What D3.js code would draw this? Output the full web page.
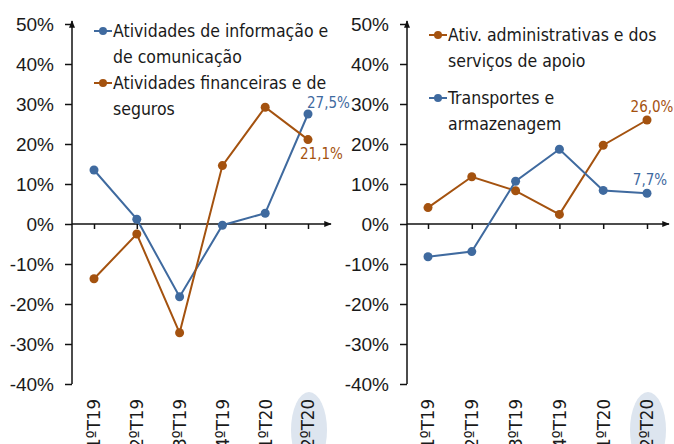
<!DOCTYPE html>
<html lang="pt">
<head>
<meta charset="utf-8">
<title>Variação homóloga</title>
<script src="https://cdnjs.cloudflare.com/ajax/libs/d3/7.8.5/d3.min.js"></script>
<style>
  body { margin: 0; background: #fff; }
  svg { display: block; font-family: "DejaVu Sans Condensed", "DejaVu Sans", sans-serif; font-stretch: condensed; }
  .tick-label { font-size: 19px; fill: #1a1a1a; }
  .cat-label { font-size: 18.5px; fill: #1a1a1a; }
  .legend-text { font-size: 17.5px; fill: #1a1a1a; }
  .data-label { font-size: 15px; }
</style>
</head>
<body>
<div id="chart"></div>
<script>
// categories (quarters)
var quarters = ["1ºT19", "2ºT19", "3ºT19", "4ºT19", "1ºT20", "2ºT20"];
var yTicks = [-0.4, -0.3, -0.2, -0.1, 0, 0.1, 0.2, 0.3, 0.4, 0.5];

// left panel series
var infoCom = [0.135, 0.012, -0.182, -0.003, 0.027, 0.275];
var financeiras = [-0.137, -0.025, -0.272, 0.146, 0.292, 0.211];
// right panel series
var administrativas = [0.041, 0.118, 0.083, 0.024, 0.197, 0.260];
var transportes = [-0.082, -0.069, 0.107, 0.187, 0.084, 0.077];

var blue = "#3f6a9f", orange = "#a4520f";

var width = 674, height = 444;
var svg = d3.select("#chart").append("svg")
  .attr("width", width).attr("height", height);

var defs = svg.append("defs");
defs.append("marker")
  .attr("id", "arrow")
  .attr("viewBox", "0 0 10 10")
  .attr("refX", 9).attr("refY", 5)
  .attr("markerWidth", 5).attr("markerHeight", 5)
  .attr("orient", "auto")
  .append("path").attr("d", "M0,1 L10,5 L0,9 Z").attr("fill", "#111");

var y = d3.scaleLinear().domain([-0.4, 0.5]).range([384, 24]);
var fmtTick = function(d) { return Math.round(d * 100) + "%"; };
var fmtLabel = function(d) { return (d * 100).toFixed(1).replace(".", ",") + "%"; };

var panels = [
  {
    axisX: 72, axisEnd: 331, x0: 94, x1: 308,
    series: [
      { name: ["Atividades de informação e", "de comunicação"], values: infoCom, color: blue,
        legendY: 31, label: { dx: -1, dy: -6, anchor: "start" } },
      { name: ["Atividades financeiras e de", "seguros"], values: financeiras, color: orange,
        legendY: 83, label: { dx: -8, dy: 19, anchor: "start" } }
    ],
    legendX: 94
  },
  {
    axisX: 407, axisEnd: 669, x0: 428, x1: 647,
    series: [
      { name: ["Ativ. administrativas e dos", "serviços de apoio"], values: administrativas, color: orange,
        legendY: 35, label: { dx: 5, dy: -8, anchor: "middle" } },
      { name: ["Transportes e", "armazenagem"], values: transportes, color: blue,
        legendY: 98, label: { dx: 3, dy: -8, anchor: "middle" } }
    ],
    legendX: 429
  }
];

panels.forEach(function(p) {
  var g = svg.append("g");
  var x = d3.scalePoint().domain(quarters).range([p.x0, p.x1]);

  // highlight last quarter
  g.append("ellipse")
    .attr("cx", x(quarters[quarters.length - 1]) + 1)
    .attr("cy", 430).attr("rx", 18).attr("ry", 38)
    .attr("fill", "#dde5ef");

  // y axis
  var yAxis = d3.axisLeft(y).tickValues(yTicks).tickFormat(fmtTick).tickSize(7).tickPadding(11);
  var ya = g.append("g").attr("transform", "translate(" + p.axisX + ",0)").call(yAxis);
  ya.select(".domain").remove();
  ya.selectAll(".tick line").attr("stroke", "#111").attr("stroke-width", 1.5);
  ya.selectAll(".tick text").attr("class", "tick-label").attr("fill", null);
  g.append("line")
    .attr("x1", p.axisX).attr("x2", p.axisX)
    .attr("y1", y(-0.4)).attr("y2", y(0.5) - 3)
    .attr("stroke", "#111").attr("stroke-width", 1.5)
    .attr("marker-end", "url(#arrow)");

  // x axis at zero
  var xAxis = d3.axisBottom(x).tickSize(5).tickFormat("");
  var xa = g.append("g").attr("transform", "translate(0," + y(0) + ")").call(xAxis);
  xa.select(".domain").remove();
  xa.selectAll(".tick line").attr("stroke", "#111").attr("stroke-width", 1.5);
  g.append("line")
    .attr("x1", p.axisX).attr("x2", p.axisEnd)
    .attr("y1", y(0)).attr("y2", y(0))
    .attr("stroke", "#111").attr("stroke-width", 1.5)
    .attr("marker-end", "url(#arrow)");

  // category labels (rotated)
  g.selectAll(".cat-label")
    .data(quarters)
    .enter().append("text")
    .attr("class", "cat-label")
    .attr("transform", function(d) { return "translate(" + x(d) + ",399) rotate(-90)"; })
    .attr("dy", "0.35em")
    .attr("text-anchor", "end")
    .text(function(d) { return d; });

  var line = d3.line()
    .x(function(d, i) { return x(quarters[i]); })
    .y(function(d) { return y(d); });

  p.series.forEach(function(s) {
    g.append("path")
      .datum(s.values)
      .attr("fill", "none")
      .attr("stroke", s.color)
      .attr("stroke-width", 2)
      .attr("d", line);

    g.selectAll(null)
      .data(s.values)
      .enter().append("circle")
      .attr("cx", function(d, i) { return x(quarters[i]); })
      .attr("cy", function(d) { return y(d); })
      .attr("r", 4.5)
      .attr("fill", s.color);

    // end label
    var last = s.values[s.values.length - 1];
    g.append("text")
      .attr("class", "data-label")
      .attr("x", x(quarters[quarters.length - 1]) + s.label.dx)
      .attr("y", y(last) + s.label.dy)
      .attr("text-anchor", s.label.anchor)
      .attr("fill", s.color)
      .text(fmtLabel(last));

    // legend
    var lg = g.append("g").attr("transform", "translate(" + p.legendX + "," + s.legendY + ")");
    lg.append("line").attr("x1", 0).attr("x2", 18).attr("y1", 0).attr("y2", 0)
      .attr("stroke", s.color).attr("stroke-width", 2);
    lg.append("circle").attr("cx", 9).attr("cy", 0).attr("r", 4).attr("fill", s.color);
    lg.selectAll("text")
      .data(s.name)
      .enter().append("text")
      .attr("class", "legend-text")
      .attr("x", 19)
      .attr("y", function(d, i) { return i * 26; })
      .attr("dy", "0.35em")
      .text(function(d) { return d; });
  });
});
</script>
</body>
</html>
